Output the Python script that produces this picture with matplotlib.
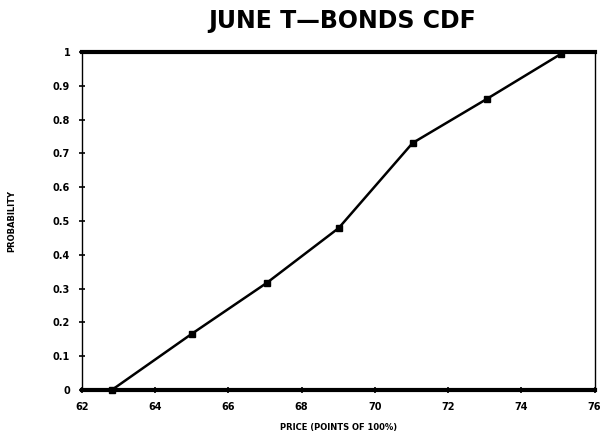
import numpy as np
import matplotlib
matplotlib.use("Agg")
import matplotlib.pyplot as plt

plt.rcParams['font.family'] = ['DejaVu Sans']
plt.rcParams['font.weight'] = 'bold'

# price points and cumulative probability
price = [62.82, 65.0, 67.05, 69.01, 71.03, 73.05, 75.07]
prob = [0.0, 0.166, 0.317, 0.479, 0.731, 0.861, 0.994]

x_ticks = [62, 64, 66, 68, 70, 72, 74, 76]
y_ticks = [0, 0.1, 0.2, 0.3, 0.4, 0.5, 0.6, 0.7, 0.8, 0.9, 1]
y_labels = ["0", "0.1", "0.2", "0.3", "0.4", "0.5", "0.6", "0.7", "0.8", "0.9", "1"]

fig = plt.figure(figsize=(6.03, 4.42), dpi=100)
ax = fig.add_axes([0.136, 0.118, 0.850, 0.764])

ax.plot(price, prob, color='black', linewidth=1.8, marker='s', markersize=5,
        clip_on=False, zorder=5)

ax.set_xlim(62, 76)
ax.set_ylim(0, 1)
ax.set_xticks(x_ticks)
ax.set_xticklabels([str(t) for t in x_ticks])
ax.set_yticks(y_ticks)
ax.set_yticklabels(y_labels)
ax.tick_params(direction='inout', length=5, width=1.2, labelsize=7, pad=6)

ax.spines['top'].set_linewidth(3)
ax.spines['bottom'].set_linewidth(3)
ax.spines['left'].set_linewidth(1)
ax.spines['right'].set_linewidth(1)
ax.spines['right'].set_linestyle((0, (6, 1)))

fig.text(0.567, 0.952, "JUNE T\u2014BONDS CDF", ha='center', va='center',
         fontsize=17, fontweight='bold')
ax.set_xlabel("PRICE (POINTS OF 100%)", fontsize=6, fontweight='bold', labelpad=8)
ax.set_ylabel("PROBABILITY", fontsize=6, fontweight='bold', labelpad=26)

fig.savefig("out.png", dpi=100)
